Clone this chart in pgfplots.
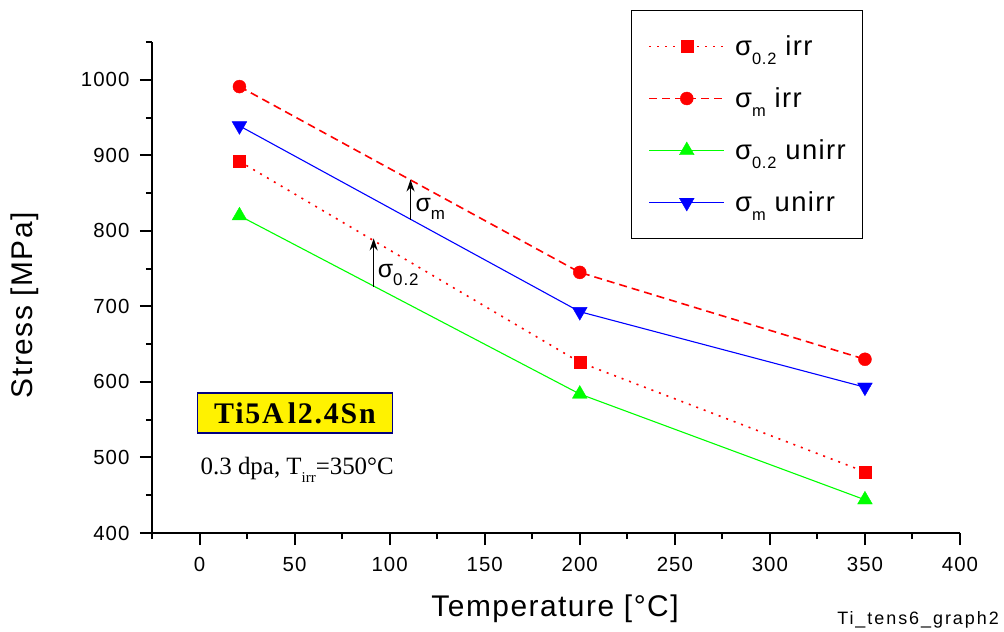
\documentclass[border=0pt]{standalone}
\usepackage{fontspec}
\setmainfont{Liberation Sans}[LetterSpace=5]
\newfontfamily\seriffont{Liberation Serif}
\usepackage{pgfplots}
\pgfplotsset{compat=1.18}
\usetikzlibrary{arrows.meta}

\definecolor{pured}{RGB}{255,0,0}
\definecolor{pugreen}{RGB}{0,255,0}
\definecolor{publue}{RGB}{0,0,255}
\definecolor{boxnavy}{RGB}{0,0,128}

% lowered, reduced-size text used for subscripts in labels
\newdimen\subsz
\newcommand\sub[2][0.6]{\subsz=\fontdimen6\font\relax\subsz=#1\subsz
  \raisebox{-0.32em}{\fontsize{\the\subsz}{\the\subsz}\selectfont #2}}

\begin{document}
\begin{tikzpicture}
\useasboundingbox (0,0) rectangle (1004bp,-632bp);
\begin{axis}[
  at={(152bp,-533bp)}, anchor=south west,
  scale only axis, width=808bp, height=491bp,
  xmin=-25, xmax=400, ymin=400, ymax=1050,
  axis x line*=bottom, axis y line*=left,
  axis line style={line width=2bp, black, -},
  tick align=outside,
  xtick={0,50,...,400}, ytick={400,500,...,1000},
  minor xtick={-25,25,...,375}, minor ytick={450,550,...,1050},
  major tick length=12bp, minor tick length=6bp,
  every tick/.append style={line width=2bp, black},
  tick label style={font=\fontsize{20.5}{20.5}\selectfont},
  xticklabel style={yshift=-9bp},
  yticklabel style={xshift=-7bp},
  /pgf/number format/assume math mode=true,
  /pgf/number format/1000 sep={},
  xlabel={Temperature [°C]}, ylabel={Stress [MPa]},
  label style={font=\fontsize{30}{30}\selectfont},
  xlabel style={at={(axis description cs:0.4988,-0.171)}, anchor=base},
  ylabel style={at={(axis description cs:-0.158,0.464)}, anchor=center},
  legend cell align=left,
  legend style={at={(0.5928,1.0652)}, anchor=north west, draw=black,
    line width=1bp, inner xsep=17bp, inner ysep=10bp, column sep=10bp,
    font=\fontsize{27.5}{27.5}\selectfont,
    nodes={inner sep=0pt, minimum height=52bp}},
  legend image code/.code={\draw[mark repeat=2,mark phase=2]
    plot coordinates {(0bp,0bp) (37.5bp,0bp) (75bp,0bp)};},
  clip=false,
]
\addplot[pured, line width=1.6bp, dash pattern=on 2bp off 6bp,
  mark=square*, mark size=6bp, mark options={solid, line width=0.4bp}]
  coordinates {(21,892) (200,626) (350,481)};
\addlegendentry{σ\sub{0.2} irr}
\addplot[pured, line width=1.6bp, dash pattern=on 8bp off 5bp,
  mark=*, mark size=6.5bp, mark options={solid, line width=0.4bp}]
  coordinates {(21,991) (200,745) (350,630)};
\addlegendentry{σ\sub{m} irr}
\addplot[pugreen, line width=1.1bp,
  mark=triangle*, mark size=8.5bp, mark options={line width=0.4bp}]
  coordinates {(21,820) (200,584) (350,444)};
\addlegendentry{σ\sub{0.2} unirr}
\addplot[publue, line width=1.1bp,
  mark=triangle*, mark size=8.5bp, mark options={rotate=180, line width=0.4bp}]
  coordinates {(21,939) (200,693) (350,593)};
\addlegendentry{σ\sub{m} unirr}

% increase markers between unirradiated and irradiated curves
\draw[line width=1.5bp, -{Stealth[length=12bp, width=8bp]}]
  (axis cs:111,815) -- (axis cs:111,868);
\draw[line width=1.5bp, -{Stealth[length=12bp, width=8bp]}]
  (axis cs:91.6,726) -- (axis cs:91.6,790);
\node[anchor=base west, inner sep=0pt, font=\fontsize{25}{25}\selectfont]
  at (axis cs:113.5,825) {σ\sub[0.68]{m}};
\node[anchor=base west, inner sep=0pt, font=\fontsize{25}{25}\selectfont]
  at (axis cs:93.7,738) {σ\sub[0.68]{0.2}};

% material and irradiation conditions
\node[fill=yellow, draw=boxnavy, line width=1.3bp, minimum width=195bp,
  minimum height=40bp, inner sep=0pt,
  font=\seriffont\bfseries\fontsize{30}{30}\selectfont\addfontfeatures{LetterSpace=6}]
  at (axis cs:50.2,559) {Ti5A\kern4bp l2.4Sn};
\node[anchor=base west, inner sep=0pt, font=\seriffont\fontsize{25}{25}\selectfont]
  at (axis cs:0.5,477) {0.3 dpa, T\sub{irr}=350°C};
\end{axis}
\node[anchor=base east, inner sep=0pt,
  font=\fontsize{18}{18}\selectfont\addfontfeatures{LetterSpace=11}]
  at (999bp,-624bp) {Ti\_tens6\_graph2};
\end{tikzpicture}
\end{document}
